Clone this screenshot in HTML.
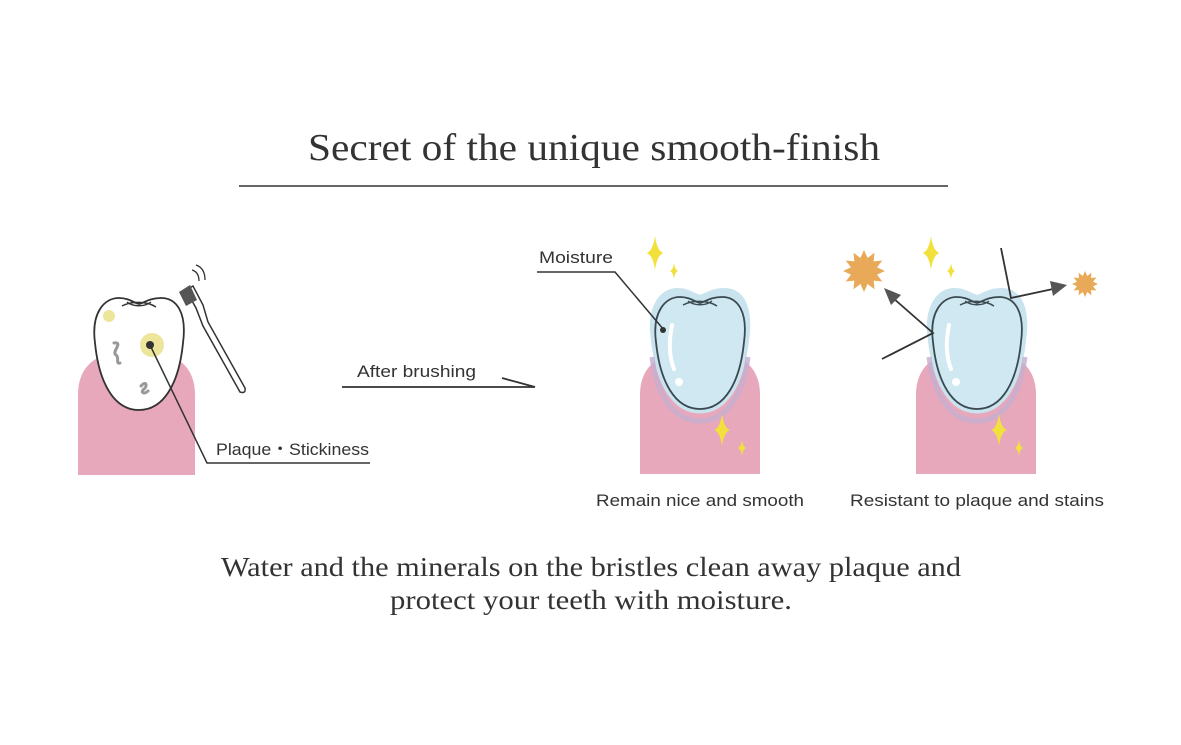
<!DOCTYPE html>
<html><head><meta charset="utf-8"><style>
html,body{margin:0;padding:0;background:#fff;}
svg{display:block;}
.s{font-family:"Liberation Serif",serif;fill:#333;}
.a{font-family:"Liberation Sans",sans-serif;fill:#333;}
</style></head><body>
<svg width="1181" height="745" viewBox="0 0 1181 745" xmlns="http://www.w3.org/2000/svg">
<defs>
<path id="tooth" d="M-44,45 C-48,15 -35,0 -20,0 C-10,0 -5,5 0,6 C5,5 10,0 22,0 C38,0 48,15 44,45 C40,85 25,112 0,112 C-25,112 -40,85 -44,45 Z"/>
<path id="spk" d="M0,-1 Q0.12,-0.12 0.5,0 Q0.12,0.12 0,1 Q-0.12,0.12 -0.5,0 Q-0.12,-0.12 0,-1 Z"/>
<polygon id="burst" points="0,-1 0.17,-0.62 0.5,-0.87 0.46,-0.46 0.87,-0.5 0.62,-0.17 1,0 0.62,0.17 0.87,0.5 0.46,0.46 0.5,0.87 0.17,0.62 0,1 -0.17,0.62 -0.5,0.87 -0.46,0.46 -0.5,0.87 -0.46,0.46 -0.87,0.5 -0.62,0.17 -1,0 -0.62,-0.17 -0.87,-0.5 -0.46,-0.46 -0.5,-0.87 -0.17,-0.62"/>
</defs>

<text class="s" x="594" y="160" font-size="38" text-anchor="middle" textLength="572" lengthAdjust="spacingAndGlyphs">Secret of the unique smooth-finish</text>
<line x1="239" y1="186" x2="948" y2="186" stroke="#333" stroke-width="1.5"/>

<!-- left -->
<path d="M78,475 L78,395 Q78,350 136,350 Q195,350 195,395 L195,475 Z" fill="#e8a8bb"/>
<g transform="translate(139,298)"><use href="#tooth" fill="#fff" stroke="#333" stroke-width="1.8"/>
<path d="M-17,8 C-8,3 8,3 17,9 M-12,4 C-6,9 6,9 12,4" fill="none" stroke="#333" stroke-width="1.4"/></g>
<circle cx="109" cy="316" r="6" fill="#ede59a"/>
<circle cx="152" cy="345" r="12" fill="#ede59a"/>
<circle cx="150" cy="345" r="4" fill="#333"/>
<path d="M114,343 C124,342 111,352 116,355 C120,358 115,364 120,363" fill="none" stroke="#999" stroke-width="3" stroke-linecap="round"/>
<path d="M141,386 C146,380 148,386 144,389 C140,392 144,395 148,391" fill="none" stroke="#999" stroke-width="3" stroke-linecap="round"/>
<!-- toothbrush -->
<path d="M186,290 L193,286 L203,305 L208,322 L245,388 Q246,394 240,392 L203,326 L196,308 Z" fill="#fff" stroke="#333" stroke-width="1.5"/>
<path d="M179,292 L190,285 L197,300 L186,306 Z" fill="#555"/>
<path d="M192,270 Q199,272 199,281 M196,265 Q205,268 205,280" fill="none" stroke="#333" stroke-width="1.3"/>
<polyline points="150,345 207,463 370,463" fill="none" stroke="#333" stroke-width="1.5"/>
<text class="a" x="216" y="455" font-size="17" textLength="153" lengthAdjust="spacingAndGlyphs">Plaque・Stickiness</text>

<!-- arrow -->
<text class="a" x="357" y="377" font-size="17" textLength="119" lengthAdjust="spacingAndGlyphs">After brushing</text>
<polyline points="342,387 535,387 502,378" fill="none" stroke="#333" stroke-width="1.8"/>

<!-- middle -->
<path d="M640,474 L640,395 Q640,350 700,350 Q760,350 760,395 L760,474 Z" fill="#e8a8bb"/>
<g transform="translate(700,297)">
<g transform="translate(0,-9) scale(1.12,1.12)"><use href="#tooth" fill="#c9e3ef"/></g>
<path d="M-48,60 C-43,100 -25,124 0,124 C25,124 43,100 48,60" fill="none" stroke="#c4aed0" stroke-width="5" opacity="0.8"/>
<use href="#tooth" fill="#cfe8f1" stroke="#3a4a50" stroke-width="1.8"/>
<path d="M-17,8 C-8,3 8,3 17,9 M-12,4 C-6,9 6,9 12,4" fill="none" stroke="#3a4a50" stroke-width="1.4"/>
<path d="M-28,28 C-32,48 -30,62 -26,72" fill="none" stroke="#fff" stroke-width="4" stroke-linecap="round"/>
<circle cx="-21" cy="85" r="4" fill="#fff"/></g>
<polyline points="537,272 615,272 664,330" fill="none" stroke="#333" stroke-width="1.5"/>
<circle cx="663" cy="330" r="3" fill="#333"/>
<text class="a" x="539" y="263" font-size="17" textLength="74" lengthAdjust="spacingAndGlyphs">Moisture</text>
<g fill="#f2e13c">
<use href="#spk" transform="translate(655,253) scale(17)"/>
<use href="#spk" transform="translate(674,271) scale(8)"/>
<use href="#spk" transform="translate(722,430) scale(16)"/>
<use href="#spk" transform="translate(742,448) scale(8)"/>
</g>
<text class="a" x="700" y="506" font-size="17" text-anchor="middle" textLength="208" lengthAdjust="spacingAndGlyphs">Remain nice and smooth</text>

<!-- right -->
<path d="M916,474 L916,395 Q916,350 976,350 Q1036,350 1036,395 L1036,474 Z" fill="#e8a8bb"/>
<g transform="translate(977,297)">
<g transform="translate(0,-9) scale(1.12,1.12)"><use href="#tooth" fill="#c9e3ef"/></g>
<path d="M-48,60 C-43,100 -25,124 0,124 C25,124 43,100 48,60" fill="none" stroke="#c4aed0" stroke-width="5" opacity="0.8"/>
<use href="#tooth" fill="#cfe8f1" stroke="#3a4a50" stroke-width="1.8"/>
<path d="M-17,8 C-8,3 8,3 17,9 M-12,4 C-6,9 6,9 12,4" fill="none" stroke="#3a4a50" stroke-width="1.4"/>
<path d="M-28,28 C-32,48 -30,62 -26,72" fill="none" stroke="#fff" stroke-width="4" stroke-linecap="round"/>
<circle cx="-21" cy="85" r="4" fill="#fff"/></g>
<g fill="#f2e13c">
<use href="#spk" transform="translate(931,253) scale(17)"/>
<use href="#spk" transform="translate(951,271) scale(8)"/>
<use href="#spk" transform="translate(999,430) scale(16)"/>
<use href="#spk" transform="translate(1019,448) scale(8)"/>
</g>
<g fill="#e8aa58">
<use href="#burst" transform="translate(864,271) scale(21)"/>
<use href="#burst" transform="translate(1085,284) scale(13)"/>
</g>
<polyline points="882,359 933,333 893,298" fill="none" stroke="#333" stroke-width="1.8"/>
<polygon points="884,288 901,295 891,305" fill="#555"/>
<polyline points="1001,248 1011,298 1053,289" fill="none" stroke="#333" stroke-width="1.8"/>
<polygon points="1067,285 1050,281 1053,296" fill="#555"/>
<text class="a" x="977" y="506" font-size="17" text-anchor="middle" textLength="254" lengthAdjust="spacingAndGlyphs">Resistant to plaque and stains</text>

<text class="s" x="591" y="576" font-size="27" text-anchor="middle" textLength="740" lengthAdjust="spacingAndGlyphs">Water and the minerals on the bristles clean away plaque and</text>
<text class="s" x="591" y="609" font-size="27" text-anchor="middle" textLength="402" lengthAdjust="spacingAndGlyphs">protect your teeth with moisture.</text>
</svg>
</body></html>
